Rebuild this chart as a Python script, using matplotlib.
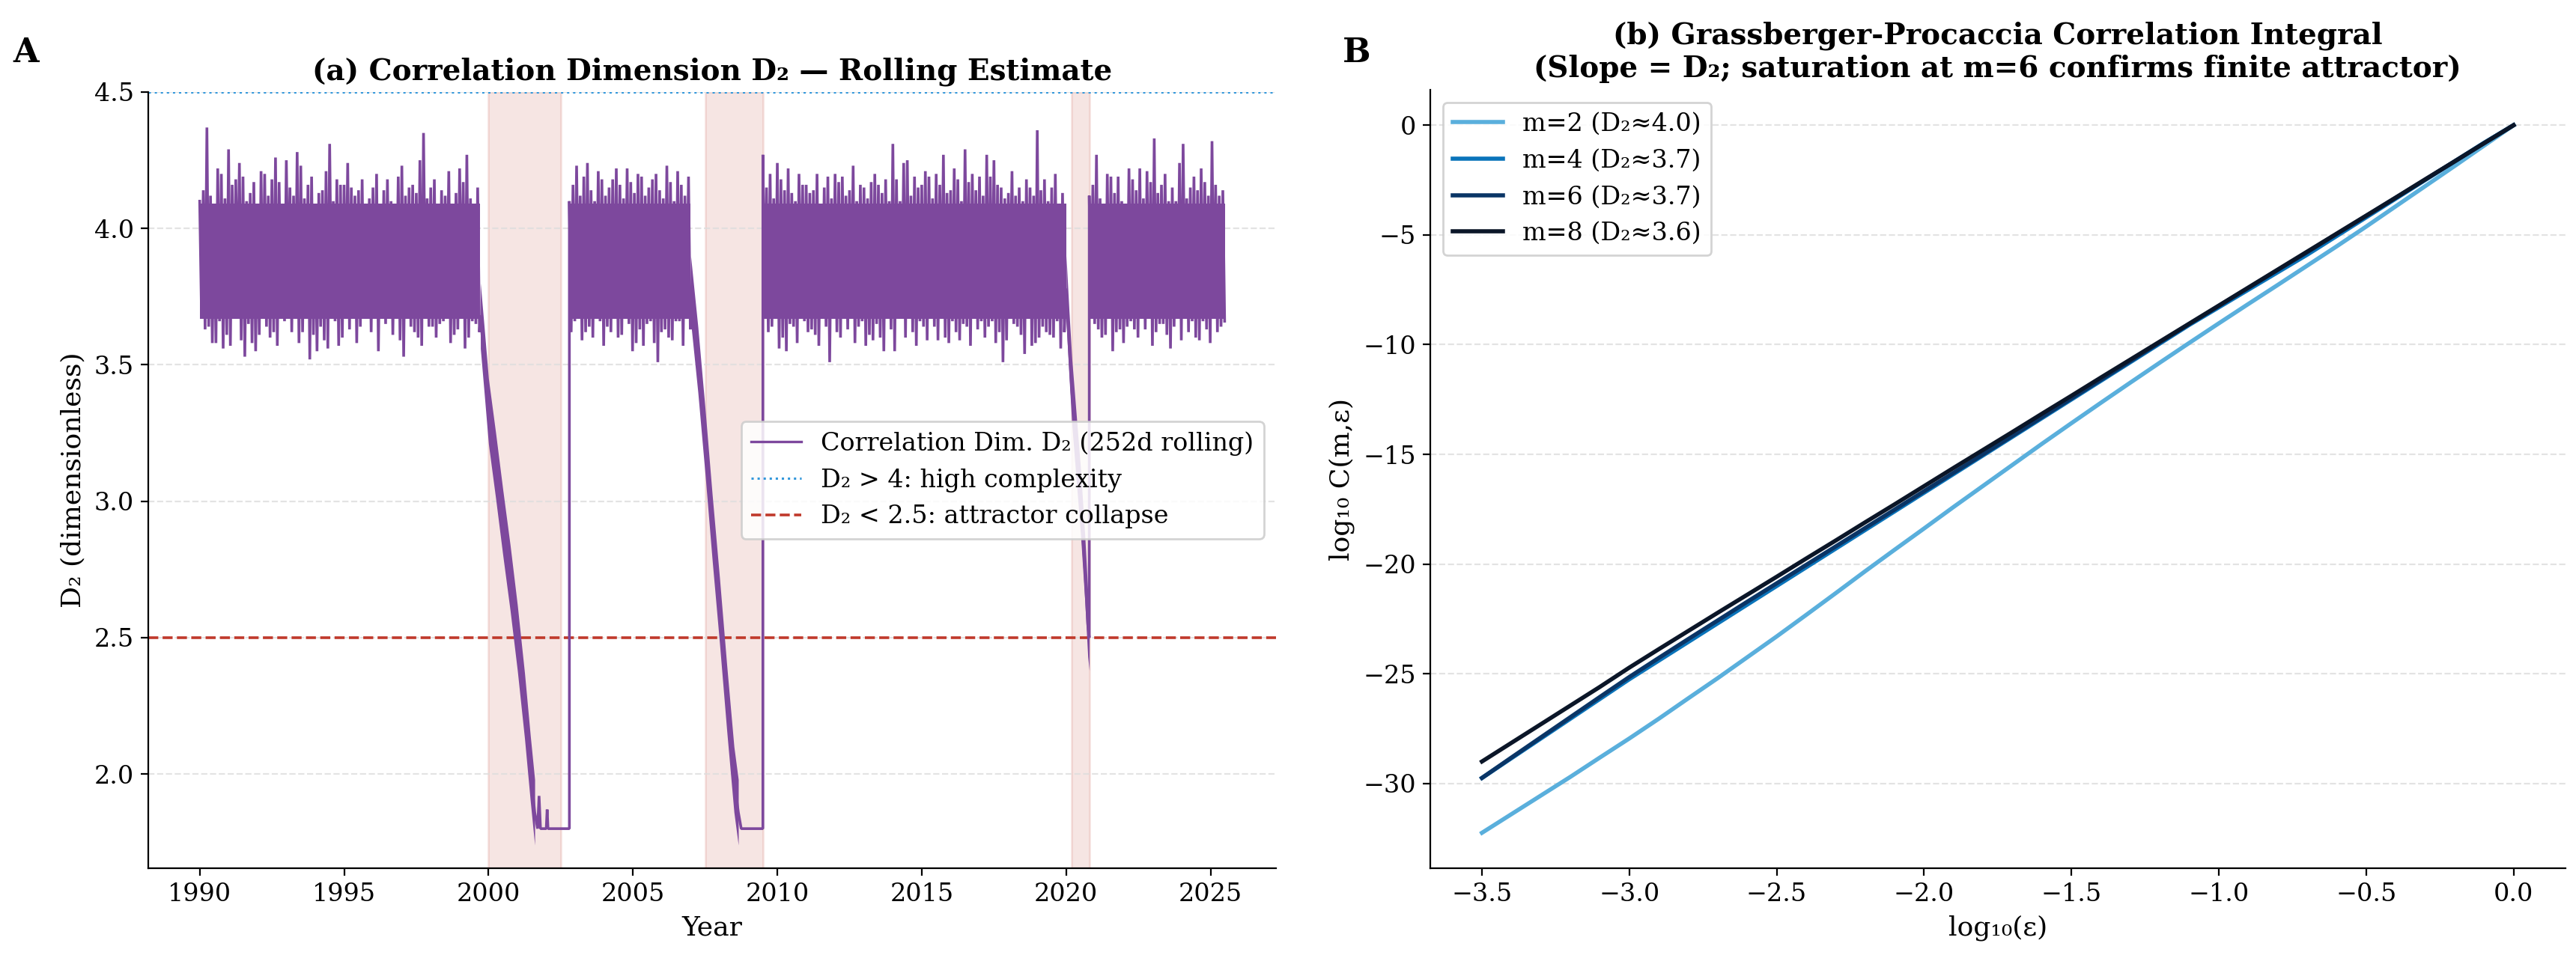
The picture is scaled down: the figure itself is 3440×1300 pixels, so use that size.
import numpy as np
import matplotlib
matplotlib.use("Agg")
import matplotlib.pyplot as plt
from matplotlib.lines import Line2D

plt.rcParams['font.family'] = ['DejaVu Serif', 'DejaVu Sans']

# ---------------- Panel (a): rolling correlation dimension ----------------
# noisy regimes: start year; per quarter year two local highs and two local lows
segA_start = 1990.0
segA_top = [4.10, 4.37, 4.08, 4.20, 4.29, 4.18, 4.19, 4.13, 4.07, 4.20,
            4.18, 4.17, 4.25, 4.12, 4.23, 4.16, 4.06, 4.14, 4.31, 4.18,
            4.16, 4.15, 4.14, 4.06, 4.15, 4.08, 4.18, 4.07, 4.23, 4.15,
            4.13, 4.35, 4.15, 4.09, 4.12, 4.07, 4.22, 4.27, 4.07]
segA_bot = [3.69, 3.64, 3.58, 3.56, 3.57, 3.75, 3.53, 3.58, 3.61, 3.64,
            3.62, 3.74, 3.78, 3.67, 3.62, 3.52, 3.55, 3.59, 3.72, 3.57,
            3.70, 3.76, 3.64, 3.69, 3.67, 3.69, 3.70, 3.73, 3.53, 3.64,
            3.60, 3.75, 3.64, 3.65, 3.74, 3.61, 3.74, 3.60, 3.65]
segA_top2 = [4.14, 4.12, 4.22, 4.11, 4.16, 4.24, 4.10, 4.17, 4.21, 4.12,
             4.26, 4.09, 4.15, 4.28, 4.11, 4.19, 4.13, 4.21, 4.10, 4.16,
             4.24, 4.12, 4.18, 4.11, 4.20, 4.14, 4.10, 4.19, 4.12, 4.16,
             4.25, 4.11, 4.18, 4.14, 4.21, 4.13, 4.17, 4.11, 4.15]
segA_bot2 = [3.63, 3.58, 3.66, 3.61, 3.68, 3.59, 3.65, 3.55, 3.67, 3.60,
             3.57, 3.66, 3.62, 3.58, 3.68, 3.61, 3.64, 3.56, 3.66, 3.60,
             3.63, 3.58, 3.67, 3.62, 3.55, 3.65, 3.61, 3.59, 3.68, 3.62,
             3.57, 3.64, 3.60, 3.66, 3.58, 3.63, 3.56, 3.66, 3.62]

segB_start = 2002.8
segB_top = [4.10, 4.23, 4.19, 4.14, 4.21, 4.12, 4.18, 4.16, 4.22, 4.13,
            4.19, 4.15, 4.20, 4.11, 4.17, 4.21, 4.12]
segB_bot = [3.62, 3.73, 3.62, 3.60, 3.66, 3.64, 3.67, 3.61, 3.65, 3.58,
            3.57, 3.66, 3.51, 3.63, 3.59, 3.66, 3.68]
segB_top2 = [4.16, 4.12, 4.24, 4.10, 4.18, 4.15, 4.22, 4.11, 4.17, 4.20,
             4.12, 4.18, 4.14, 4.23, 4.10, 4.16, 4.19]
segB_bot2 = [3.66, 3.59, 3.64, 3.68, 3.57, 3.62, 3.60, 3.67, 3.55, 3.63,
             3.65, 3.58, 3.62, 3.60, 3.66, 3.57, 3.63]

segC_start = 2009.5
segC_top = [4.27, 4.20, 4.24, 4.14, 4.13, 4.20, 4.16, 4.14, 4.08, 4.19,
            4.20, 4.19, 4.14, 4.10, 4.15, 4.17, 4.16, 4.18, 4.31, 4.10,
            4.25, 4.19, 4.16, 4.19, 4.20, 4.27, 4.14, 4.18, 4.29, 4.20,
            4.19, 4.27, 4.25, 4.15, 4.13, 4.12, 4.10, 4.15, 4.36, 4.18,
            4.15, 4.09]
segC_bot = [3.71, 3.64, 3.56, 3.55, 3.64, 3.72, 3.62, 3.61, 3.70, 3.51,
            3.62, 3.75, 3.70, 3.64, 3.57, 3.59, 3.60, 3.67, 3.55, 3.71,
            3.67, 3.57, 3.64, 3.67, 3.59, 3.60, 3.66, 3.59, 3.64, 3.73,
            3.66, 3.64, 3.58, 3.51, 3.77, 3.64, 3.54, 3.57, 3.60, 3.62,
            3.60, 3.56]
segC_top2 = [4.15, 4.11, 4.18, 4.22, 4.10, 4.16, 4.13, 4.20, 4.15, 4.11,
             4.17, 4.12, 4.23, 4.16, 4.11, 4.20, 4.13, 4.10, 4.18, 4.24,
             4.12, 4.15, 4.21, 4.11, 4.16, 4.13, 4.22, 4.10, 4.17, 4.14,
             4.12, 4.19, 4.16, 4.11, 4.21, 4.15, 4.18, 4.12, 4.14, 4.10,
             4.20, 4.13]
segC_bot2 = [3.62, 3.67, 3.60, 3.65, 3.58, 3.66, 3.63, 3.57, 3.64, 3.68,
             3.60, 3.63, 3.58, 3.66, 3.61, 3.65, 3.55, 3.63, 3.67, 3.60,
             3.62, 3.66, 3.59, 3.64, 3.68, 3.58, 3.62, 3.65, 3.57, 3.63,
             3.60, 3.66, 3.62, 3.59, 3.65, 3.61, 3.67, 3.58, 3.64, 3.61,
             3.66, 3.62]

segD_start = 2020.8
segD_top = [4.12, 4.27, 4.08, 4.19, 4.19, 4.09, 4.18, 4.22, 4.21, 4.33,
            4.16, 4.10, 4.10, 4.31, 4.15, 4.14, 4.17, 4.32, 4.12]
segD_bot = [3.70, 3.63, 3.61, 3.55, 3.63, 3.64, 3.63, 3.67, 3.68, 3.62,
            3.65, 3.56, 3.67, 3.73, 3.66, 3.59, 3.63, 3.68, 3.64]
segD_top2 = [4.16, 4.11, 4.20, 4.13, 4.10, 4.22, 4.14, 4.11, 4.17, 4.13,
             4.20, 4.15, 4.24, 4.11, 4.19, 4.22, 4.12, 4.16, 4.14]
segD_bot2 = [3.65, 3.60, 3.67, 3.62, 3.58, 3.66, 3.60, 3.63, 3.57, 3.65,
             3.61, 3.64, 3.59, 3.62, 3.60, 3.66, 3.58, 3.62, 3.66]

sample_step = 0.25
# dense body of the noisy regimes
regime_spans = [(1990.0, 1999.7), (2002.8, 2007.0), (2009.5, 2020.0), (2020.8, 2025.5)]
core_lo = 3.67
core_hi = 4.09

# collapse episodes (centre of the falling band)
crash1_t = [1999.72, 1999.85, 2000.0, 2000.25, 2000.5, 2000.75, 2001.0, 2001.25, 2001.45, 2001.6]
crash1_v = [3.68, 3.52, 3.33, 3.13, 2.92, 2.72, 2.50, 2.25, 2.02, 1.86]
floor1_t = [2001.7, 2001.75, 2001.8, 2002.0, 2002.03, 2002.06, 2002.8]
floor1_v = [1.80, 1.92, 1.80, 1.80, 1.87, 1.80, 1.80]

crash2_t = [2007.0, 2007.25, 2007.5, 2007.75, 2008.0, 2008.25, 2008.5, 2008.65]
crash2_v = [3.78, 3.52, 3.22, 2.90, 2.60, 2.28, 1.98, 1.86]
floor2_t = [2008.75, 2009.5]
floor2_v = [1.80, 1.80]

crash3_t = [2020.0, 2020.1, 2020.2, 2020.35, 2020.5, 2020.65, 2020.75, 2020.8]
crash3_v = [3.78, 3.58, 3.40, 3.20, 3.00, 2.75, 2.55, 2.50]
crash_halfwidth = 0.12

crisis_periods = [(2000.0, 2002.5), (2007.5, 2009.5), (2020.2, 2020.8)]
high_complexity_level = 4.5
collapse_level = 2.5

# ---------------- Panel (b): correlation integral ----------------
log_eps = np.round(np.linspace(-3.5, 0.0, 36), 2)
emb_dims = [2, 4, 6, 8]
d2_est = [4.0, 3.7, 3.7, 3.6]
logC_m2 = [-32.25, -31.40, -30.55, -29.70, -28.82, -27.95, -27.05, -26.12, -25.20, -24.25,
           -23.30, -22.32, -21.33, -20.33, -19.35, -18.38, -17.40, -16.44, -15.48, -14.52,
           -13.58, -12.65, -11.73, -10.82, -9.92, -9.03, -8.15, -7.28, -6.40, -5.52,
           -4.62, -3.70, -2.78, -1.86, -0.93, 0.0]
logC_m4 = [-29.75, -28.85, -27.95, -27.05, -26.15, -25.25, -24.40, -23.55, -22.70, -21.85,
           -21.00, -20.15, -19.30, -18.45, -17.60, -16.75, -15.90, -15.05, -14.20, -13.35,
           -12.50, -11.65, -10.80, -9.95, -9.10, -8.30, -7.50, -6.70, -5.90, -5.05,
           -4.20, -3.35, -2.50, -1.65, -0.80, 0.0]
logC_m6 = [-29.75, -28.82, -27.90, -26.98, -26.06, -25.15, -24.28, -23.42, -22.57, -21.72,
           -20.88, -20.04, -19.20, -18.36, -17.52, -16.68, -15.84, -15.00, -14.15, -13.30,
           -12.45, -11.60, -10.75, -9.90, -9.06, -8.24, -7.42, -6.60, -5.79, -4.96,
           -4.14, -3.31, -2.48, -1.65, -0.82, 0.0]
logC_m8 = [-29.00, -28.15, -27.30, -26.45, -25.60, -24.72, -23.88, -23.05, -22.22, -21.40,
           -20.58, -19.75, -18.93, -18.10, -17.28, -16.45, -15.62, -14.80, -13.98, -13.15,
           -12.33, -11.50, -10.68, -9.86, -9.04, -8.22, -7.40, -6.58, -5.76, -4.94,
           -4.12, -3.30, -2.47, -1.65, -0.82, 0.0]
line_colors = ['#5aafdc', '#0a74ba', '#0a3566', '#0b1628']

# ---------------- build series for (a) ----------------
def zigzag(start, tops, bots, tops2, bots2, step):
    xs, ys = [], []
    for k, vals in enumerate(zip(tops, bots, tops2, bots2)):
        x0 = start + k * step
        xs += [x0 + j * step / 4 for j in range(4)]
        ys += list(vals)
    return xs, ys

noise_parts = [
    zigzag(segA_start, segA_top, segA_bot, segA_top2, segA_bot2, sample_step),
    zigzag(segB_start, segB_top, segB_bot, segB_top2, segB_bot2, sample_step),
    zigzag(segC_start, segC_top, segC_bot, segC_top2, segC_bot2, sample_step),
    zigzag(segD_start, segD_top, segD_bot, segD_top2, segD_bot2, sample_step),
]
pieces = [
    noise_parts[0], (crash1_t, crash1_v), (floor1_t, floor1_v),
    noise_parts[1], (crash2_t, crash2_v), (floor2_t, floor2_v),
    noise_parts[2], (crash3_t, crash3_v),
    noise_parts[3],
]
x_all = np.concatenate([np.asarray(p[0], float) for p in pieces])
y_all = np.concatenate([np.asarray(p[1], float) for p in pieces])

purple = '#7d489d'

fig = plt.figure(figsize=(17.205, 6.5), dpi=200)
ax1 = fig.add_axes([0.0576, 0.1077, 0.4377, 0.7977])
ax2 = fig.add_axes([0.5551, 0.1077, 0.4404, 0.8000])

for a, b in crisis_periods:
    ax1.axvspan(a, b, color='#c0392b', alpha=0.13, lw=1.0, zorder=0)

for a, b in regime_spans:
    ax1.fill_between([a, b], [core_lo, core_lo], [core_hi, core_hi],
                     color=purple, lw=0, zorder=2)
for ct, cv in [(crash1_t, crash1_v), (crash2_t, crash2_v), (crash3_t, crash3_v)]:
    cv = np.asarray(cv)
    ax1.fill_between(ct, cv - crash_halfwidth, cv + crash_halfwidth,
                     color=purple, lw=0, zorder=2)

ax1.plot(x_all, y_all, color=purple, lw=1.3, zorder=3, solid_joinstyle='bevel')
h_line = Line2D([], [], color=purple, lw=1.2)
h_hi = ax1.axhline(high_complexity_level, color='#3498db', ls=':', lw=1.1, zorder=1)
h_lo = ax1.axhline(collapse_level, color='#c0392b', ls='--', lw=1.3, zorder=1)

ax1.set_xlim(1988.225, 2027.275)
ax1.set_ylim(1.655, 4.5)
ax1.set_xticks([1990, 1995, 2000, 2005, 2010, 2015, 2020, 2025])
ax1.set_yticks([2.0, 2.5, 3.0, 3.5, 4.0, 4.5])
ax1.set_title('(a) Correlation Dimension D₂ — Rolling Estimate',
              fontsize=14, fontweight='bold')
ax1.set_xlabel('Year', fontsize=13)
ax1.set_ylabel('D₂ (dimensionless)', fontsize=13)
ax1.legend([h_line, h_hi, h_lo],
           ['Correlation Dim. D₂ (252d rolling)', 'D₂ > 4: high complexity',
            'D₂ < 2.5: attractor collapse'],
           loc='center right', fontsize=12, framealpha=0.85, edgecolor='#cccccc')

# ---------------- panel (b) ----------------
for m, d2, ys, c in zip(emb_dims, d2_est, [logC_m2, logC_m4, logC_m6, logC_m8], line_colors):
    ax2.plot(log_eps, ys, color=c, lw=2.0, label=f'm={m} (D₂≈{d2:.1f})')

ax2.set_xticks(np.arange(-3.5, 0.01, 0.5))
ax2.set_title('(b) Grassberger-Procaccia Correlation Integral\n'
              '(Slope = D₂; saturation at m=6 confirms finite attractor)',
              fontsize=14, fontweight='bold')
ax2.set_xlabel('log₁₀(ε)', fontsize=13)
ax2.set_ylabel('log₁₀ C(m,ε)', fontsize=13)
ax2.legend(loc='upper left', fontsize=12, framealpha=0.85, edgecolor='#cccccc')

for ax in (ax1, ax2):
    ax.spines['top'].set_visible(False)
    ax.spines['right'].set_visible(False)
    ax.tick_params(labelsize=12)
    ax.yaxis.grid(True, ls='--', lw=0.8, color='#dddddd', alpha=0.8)
    ax.set_axisbelow(True)

fig.text(0.005, 0.962, 'A', fontsize=16, fontweight='bold', va='top', ha='left')
fig.text(0.521, 0.962, 'B', fontsize=16, fontweight='bold', va='top', ha='left')

fig.savefig('out.png', dpi=200)
